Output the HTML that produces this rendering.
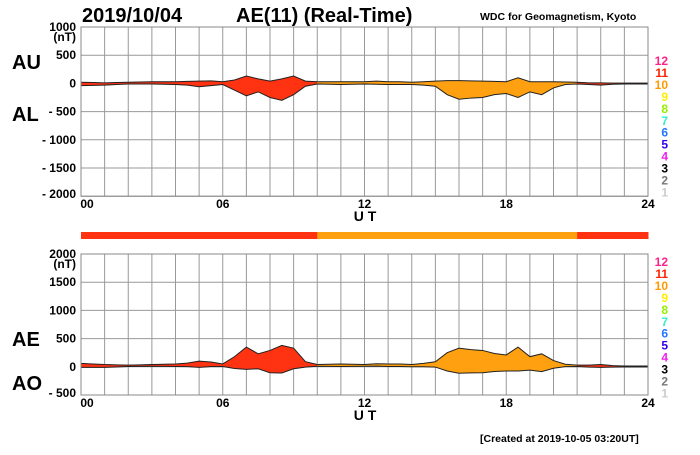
<!DOCTYPE html>
<html><head><meta charset="utf-8"><style>
body{margin:0;background:#fff;width:700px;height:450px;overflow:hidden}
svg text{font-family:"Liberation Sans",Arial,sans-serif;font-weight:bold}
</style></head><body>
<svg id="c" width="700" height="450" viewBox="0 0 700 450"></svg>
<script>
const hours=[0,0.5,1,1.5,2,2.5,3,3.5,4,4.5,5,5.5,6,6.5,7,7.5,8,8.5,9,9.5,10,10.5,11,11.5,12,12.5,13,13.5,14,14.5,15,15.5,16,16.5,17,17.5,18,18.5,19,19.5,20,20.5,21,21.5,22,22.5,23,23.5,24];
const auVals=[20,15,10,15,20,25,30,30,30,35,40,45,30,60,130,80,40,80,130,40,30,30,30,30,30,40,30,30,20,30,40,50,50,45,40,35,30,100,30,30,30,25,20,10,10,5,5,5,5];
const alVals=[-40,-35,-30,-20,-10,-10,-10,-15,-20,-30,-60,-40,-20,-120,-220,-150,-250,-300,-200,-50,-10,-15,-20,-15,-10,-15,-20,-20,-20,-30,-50,-200,-280,-260,-250,-200,-180,-250,-150,-200,-80,-20,-10,-20,-30,-15,-10,-10,-10];
const stations=[11,11,11,11,11,11,11,11,11,11,11,11,11,11,11,11,11,11,11,11,10,10,10,10,10,10,10,10,10,10,10,10,10,10,10,10,10,10,10,10,10,10,11,11,11,11,11,11];
const topTicks=["1000","500","0","- 500","- 1000","- 1500","- 2000"];
const botTicks=["2000","1500","1000","500","0","- 500"];
const xTicks=["00","06","12","18","24"];
const legendNums=["12","11","10","9","8","7","6","5","4","3","2","1"];
const legendCols=["#ff2288","#ff2200","#ff9900","#ffee00","#99ee00","#33eecc","#2277ff","#3300ee","#ee22ee","#000","#777","#ccc"];
const stCol={11:"#ff3311",10:"#ffa010"};
const NS="http://www.w3.org/2000/svg",svg=document.getElementById('c');
function mk(t,a,txt){const e=document.createElementNS(NS,t);for(const k in a)e.setAttribute(k,a[k]);if(txt!=null)e.textContent=txt;svg.appendChild(e);return e;}
const X0=81,X1=648,xs=h=>X0+(X1-X0)*h/24;
function panel(top,vmax,vmin,ticks,upper,lower,name,legY){
  const bot=top+(vmax-vmin)/500*28.2,ys=v=>top+(vmax-v)/500*28.2;
  for(let h=0;h<=24;h++){const l=mk('line',{x1:xs(h),x2:xs(h),y1:top,y2:bot,stroke:'#999','stroke-width':1});}
  for(let v=vmax;v>=vmin;v-=500){const l=mk('line',{x1:X0,x2:X1,y1:ys(v),y2:ys(v),stroke:'#999','stroke-width':1});}
  for(let i=0;i<hours.length-1;i++){
    const p=`${xs(hours[i])},${ys(upper[i])} ${xs(hours[i+1])},${ys(upper[i+1])} ${xs(hours[i+1])},${ys(lower[i+1])} ${xs(hours[i])},${ys(lower[i])}`;
    const e=mk('polygon',{points:p,fill:stCol[stations[i]],stroke:stCol[stations[i]],'stroke-width':0.5});
    
  }
  [upper,lower].forEach((arr,k)=>{const e=mk('polyline',{points:hours.map((h,i)=>xs(h)+','+ys(arr[i])).join(' '),fill:'none',stroke:'#222','stroke-width':1});
    });
  mk('rect',{x:X0,y:top,width:X1-X0,height:bot-top,fill:'none',stroke:'#888'});
  ticks.forEach((t,i)=>{const e=mk('text',{x:76,y:top+i*28.2+(i==ticks.length-1?2:4),'text-anchor':'end','font-size':12},t);});
  mk('text',{x:76,y:top+14,'text-anchor':'end','font-size':12},'(nT)');
  xTicks.forEach((t,i)=>{const e=mk('text',{x:xs(i*6)+(i==0?6:0),y:bot+12,'text-anchor':'middle','font-size':12},t);});
  const u=mk('text',{x:365,y:bot+25,'text-anchor':'middle','font-size':14},'U T');
  legendNums.forEach((n,i)=>{const e=mk('text',{x:668,y:legY+i*11.95,'text-anchor':'end','font-size':12,fill:legendCols[i]},n);});
}
panel(27,1000,-2000,topTicks,auVals,alVals,'top',65);
const ae=auVals.map((u,i)=>u-alVals[i]),ao=auVals.map((u,i)=>(u+alVals[i])/2);
panel(254,2000,-500,botTicks,ae,ao,'bottom',266);
for(let i=0;i<stations.length;i++){const e=mk('rect',{x:xs(hours[i]),y:232,width:xs(hours[i+1])-xs(hours[i])+0.5,height:7,fill:stCol[stations[i]]});}
[['AU',12,69],['AL',12,121],['AE',12,346],['AO',12,390]].forEach(a=>{const e=mk('text',{x:a[1],y:a[2],'font-size':20},a[0]);});
let t=mk('text',{x:82,y:22,'font-size':20},'2019/10/04');
t=mk('text',{x:236,y:22,'font-size':20},'AE(11) (Real-Time)');
t=mk('text',{x:480,y:20,'font-size':10.5,'font-weight':'normal'},'WDC for Geomagnetism, Kyoto');
t=mk('text',{x:480,y:442,'font-size':10.5,'font-weight':'normal'},'[Created at 2019-10-05 03:20UT]');
</script></body></html>
